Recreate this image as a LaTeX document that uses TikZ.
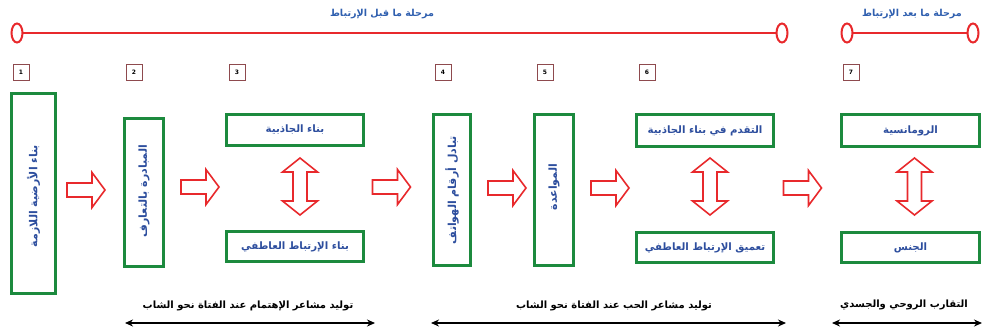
\documentclass[tikz,border=0pt]{standalone}
\usepackage{fontspec}
\setmainfont{DejaVu Sans}
\newfontfamily\arabicfont[Script=Arabic]{DejaVu Sans}
\TeXXeTstate=1
\usetikzlibrary{arrows.meta,shapes.geometric}
\definecolor{boxgreen}{HTML}{1C8A3E}
\definecolor{txtblue}{HTML}{2D4E9E}
\definecolor{toplbl}{HTML}{2F5FAF}
\definecolor{arrred}{HTML}{E8292C}
\definecolor{numbrd}{HTML}{8E4A4E}
\newcommand{\ar}[1]{{\arabicfont\bfseries\beginR #1\endR}}
\tikzset{
  gbox/.style={draw=boxgreen, line width=3pt, fill=white, inner sep=0pt,
    text=txtblue, font=\fontsize{10.2}{12}\selectfont},
  numbox/.style={draw=numbrd, line width=0.9pt, fill=white, minimum width=16pt,
    minimum height=16pt, inner sep=0pt, font=\fontsize{6}{7}\selectfont\bfseries},
  redline/.style={draw=arrred, line width=1.8pt},
  ring/.style={draw=arrred, line width=2pt, fill=white, ellipse, minimum width=11pt,
    minimum height=19pt, inner sep=0pt},
  hollow/.style={draw=arrred, line width=1.6pt, fill=white, line join=miter},
  harrow/.pic={\path[hollow] (-19,-7) -- (6,-7) -- (6,-17.5) -- (19,0) -- (6,17.5) -- (6,7) -- (-19,7) -- cycle;},
  varrow/.pic={\path[hollow] (-7,-14.5) -- (-17.5,-14.5) -- (0,-28.5) -- (17.5,-14.5) -- (7,-14.5)
     -- (7,14.5) -- (17.5,14.5) -- (0,28.5) -- (-17.5,14.5) -- (-7,14.5) -- cycle;},
  span/.style={draw=black, line width=1.8pt, {Stealth[length=8pt,width=7pt]}-{Stealth[length=8pt,width=7pt]}},
  btxt/.style={text=black, font=\fontsize{10}{12}\selectfont},
  tlbl/.style={text=toplbl, font=\fontsize{9.6}{11}\selectfont},
  vtxt/.style={rotate=90, text=txtblue, font=\fontsize{11}{13}\selectfont},
}
\begin{document}
\begin{tikzpicture}[x=1pt,y=-1pt]
\useasboundingbox (0,0) rectangle (984,333);
% top timelines
\node[tlbl] (lblpre) at (382,14) {\ar{مرحلة ما قبل الإرتباط}};
\node[tlbl] (lblpost) at (912,14) {\ar{مرحلة ما بعد الإرتباط}};
\coordinate (r1) at (17,33);
\coordinate (r2) at (782,33);
\coordinate (r3) at (847,33);
\coordinate (r4) at (973,33);
\draw[redline] (r1) -- (r2);
\draw[redline] (r3) -- (r4);
\node[ring] (e1) at (r1) {};
\node[ring] (e2) at (r2) {};
\node[ring] (e3) at (r3) {};
\node[ring] (e4) at (r4) {};
% number boxes
\node[numbox] (n1) at (21,72) {1};
\node[numbox] (n2) at (134,72) {2};
\node[numbox] (n3) at (237,72) {3};
\node[numbox] (n4) at (443,72) {4};
\node[numbox] (n5) at (545,72) {5};
\node[numbox] (n6) at (647,72) {6};
\node[numbox] (n7) at (851,72) {7};
% boxes
\node[gbox, minimum width=44pt, minimum height=200pt] (b1) at (33.5,193.5) {};
\node[vtxt] (t1) at (33.5,196) {\ar{بناء الأرضية اللازمة}};
\node[gbox, minimum width=39pt, minimum height=148pt] (b2) at (144,192.5) {};
\node[vtxt] (t2) at (144,191) {\ar{المبادرة بالتعارف}};
\node[gbox, minimum width=137pt, minimum height=31pt] (b3a) at (295,130) {\ar{بناء الجاذبية}};
\node[gbox, minimum width=137pt, minimum height=30pt] (b3b) at (295,246.5) {\ar{بناء الإرتباط العاطفي}};
\node[gbox, minimum width=37pt, minimum height=151pt] (b4) at (452,190) {};
\node[vtxt] (t4) at (452,190) {\ar{تبادل أرقام الهواتف}};
\node[gbox, minimum width=39pt, minimum height=151pt] (b5) at (554,190) {};
\node[vtxt] (t5) at (554,187) {\ar{المواعدة}};
\node[gbox, minimum width=137pt, minimum height=32pt] (b6a) at (705,130.5) {\ar{التقدم في بناء الجاذبية}};
\node[gbox, minimum width=137pt, minimum height=30pt] (b6b) at (705,247.5) {\ar{تعميق الإرتباط العاطفي}};
\node[gbox, minimum width=138pt, minimum height=32pt] (b7a) at (910.5,130.5) {\ar{الرومانسية}};
\node[gbox, minimum width=138pt, minimum height=30pt] (b7b) at (910.5,247.5) {\ar{الجنس}};
% hollow arrows
\pic at (86,190) {harrow};
\pic at (200,187) {harrow};
\pic at (391.5,187) {harrow};
\pic at (507,188) {harrow};
\pic at (610,188) {harrow};
\pic at (802.5,188) {harrow};
\pic at (300,186.5) {varrow};
\pic at (710,186.5) {varrow};
\pic at (914.5,186.5) {varrow};
% bottom spans
\node[btxt] (s1) at (248,306) {\ar{توليد مشاعر الإهتمام عند الفتاة نحو الشاب}};
\node[btxt] (s2) at (614,306) {\ar{توليد مشاعر الحب عند الفتاة نحو الشاب}};
\node[btxt] (s3) at (904,305) {\ar{التقارب الروحي والجسدي}};
\coordinate (p1a) at (125,323); \coordinate (p1b) at (375,323);
\coordinate (p2a) at (431,323); \coordinate (p2b) at (786,323);
\coordinate (p3a) at (832,323); \coordinate (p3b) at (982,323);
\draw[span] (p1a) -- (p1b);
\draw[span] (p2a) -- (p2b);
\draw[span] (p3a) -- (p3b);
\end{tikzpicture}
\end{document}
